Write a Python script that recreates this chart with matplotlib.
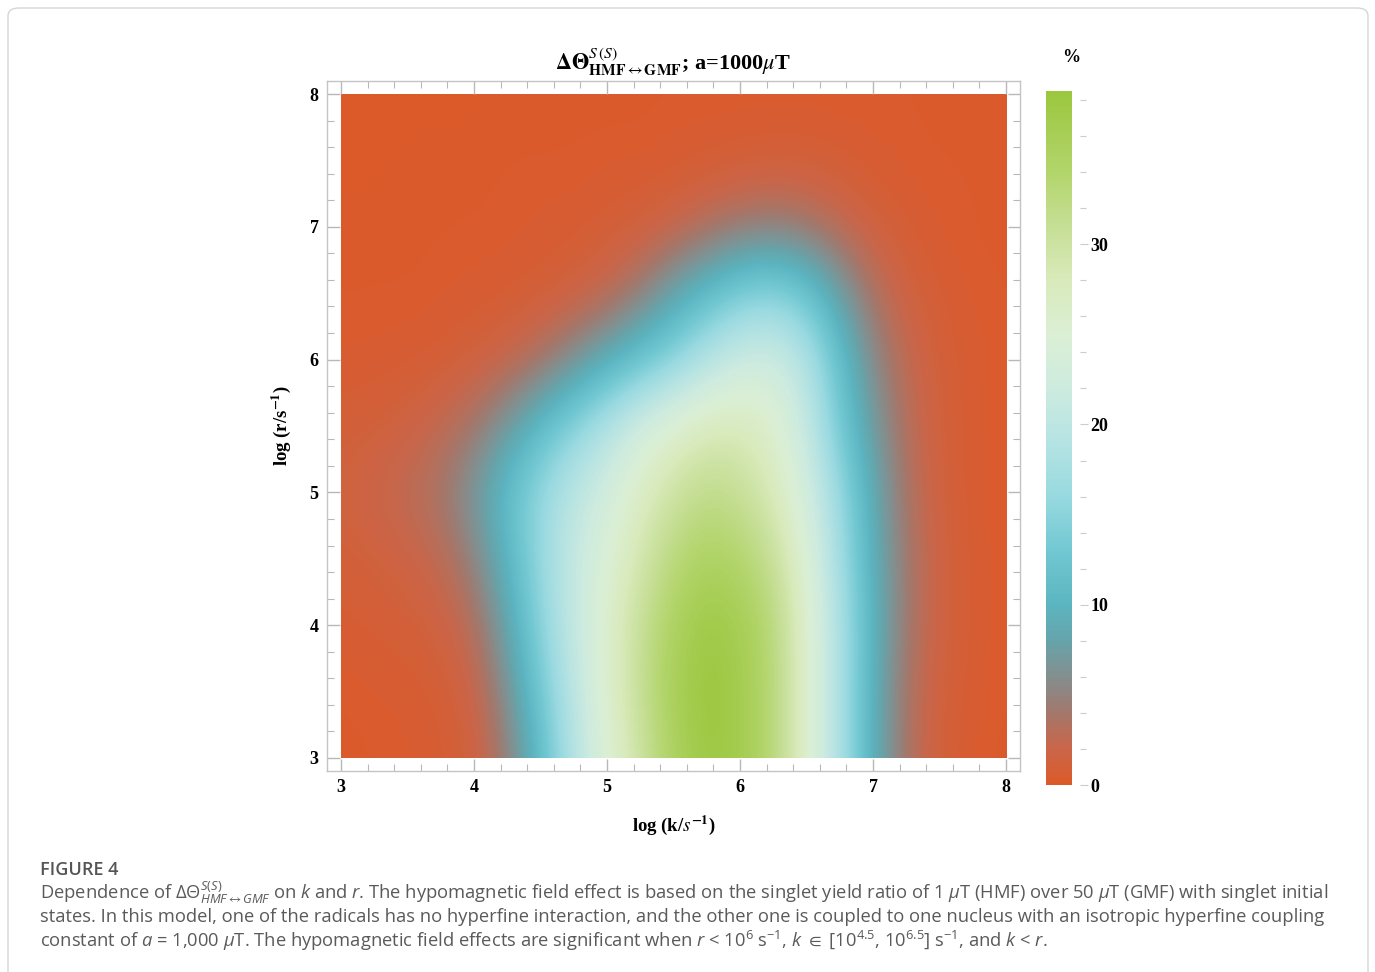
import numpy as np
import matplotlib
matplotlib.use("Agg")
import matplotlib.pyplot as plt
from matplotlib.colors import LinearSegmentedColormap
from matplotlib.patches import Rectangle, FancyBboxPatch
from matplotlib.ticker import MultipleLocator

plt.rcParams['mathtext.fontset'] = 'custom'
plt.rcParams['mathtext.rm'] = 'Open Sans'
plt.rcParams['mathtext.it'] = 'Open Sans:italic'
plt.rcParams['mathtext.bf'] = 'Open Sans:bold'
plt.rcParams['mathtext.sf'] = 'Open Sans'
plt.rcParams['mathtext.fallback'] = 'stixsans'

# grid: log k (columns) x log r (rows), effect in %
log_k = [3.0, 3.25, 3.5, 3.75, 4.0, 4.25, 4.5, 4.75, 5.0, 5.25, 5.5,
         5.75, 6.0, 6.25, 6.5, 6.75, 7.0, 7.25, 7.5, 7.75, 8.0]
log_r = [3.0, 3.5, 4.0, 4.5, 5.0, 5.5, 6.0, 6.5, 7.0, 7.5, 8.0]

r30 = [0.2, 0.3, 0.4, 0.6, 1.2, 4.5, 11, 19, 25, 30, 35, 38, 37, 33, 26, 18, 9, 3.5, 1.0, 0.4, 0.2]
r35 = [0.3, 0.4, 0.5, 0.8, 1.8, 6, 13, 20, 26, 31, 36, 38.5, 37, 33, 26, 18, 9, 3.5, 1.2, 0.5, 0.3]
r40 = [0.6, 0.8, 1.0, 1.5, 3, 8, 15, 21, 26, 31, 35, 38, 36.5, 33, 26, 18, 9.5, 4, 1.5, 0.6, 0.3]
r45 = [1.0, 1.3, 1.7, 2.5, 5, 10, 16, 21, 25, 29, 33, 35, 34, 31, 25, 17, 9, 4, 1.5, 0.6, 0.3]
r50 = [1.5, 2.0, 2.8, 4, 7, 11.5, 16, 20, 23, 27, 30, 32, 31, 28, 23, 16, 8.5, 3.5, 1.3, 0.5, 0.3]
r55 = [1.0, 1.2, 1.6, 2.5, 4, 7, 11, 15, 19, 23, 26, 28, 28, 26, 21, 13, 7, 3, 1.2, 0.5, 0.3]
r60 = [0.4, 0.5, 0.6, 0.8, 1.2, 2, 3.5, 6, 9, 12, 15, 19, 22, 22.5, 19, 11.5, 5.5, 2.5, 1.0, 0.5, 0.3]
r65 = [0.3, 0.3, 0.3, 0.4, 0.5, 0.6, 0.8, 1.3, 2.3, 4.5, 8, 11, 14, 15, 12.5, 7.5, 3.5, 1.5, 0.7, 0.4, 0.3]
r70 = [0.2, 0.2, 0.2, 0.3, 0.3, 0.4, 0.5, 0.6, 0.8, 1.1, 1.8, 3, 4, 4.5, 3.8, 2.5, 1.3, 0.7, 0.4, 0.3, 0.2]
r75 = [0.1, 0.1, 0.2, 0.2, 0.2, 0.3, 0.3, 0.3, 0.4, 0.4, 0.5, 0.6, 0.8, 0.9, 0.9, 0.7, 0.5, 0.4, 0.3, 0.3, 0.2]
r80 = [0.1, 0.1, 0.1, 0.1, 0.1, 0.2, 0.2, 0.2, 0.2, 0.2, 0.3, 0.3, 0.3, 0.3, 0.3, 0.3, 0.3, 0.3, 0.2, 0.2, 0.2]

cbar_ticks = [0, 10, 20, 30]
vmax = 38.5

# colour scale stops (value, colour)
stops = [(0, '#dc5a2a'), (2, '#c9664a'), (4, '#a2786c'), (5.5, '#8a8a88'),
         (8, '#66a4ab'), (10, '#5bb5c0'), (13, '#72c8d2'), (16, '#98d9e0'),
         (19, '#b5e3e3'), (22, '#cdebdf'), (25, '#dbefd5'), (28, '#d9eabb'),
         (31, '#c6df96'), (34, '#b3d56c'), (38.5, '#9bc73e')]
cmap = LinearSegmentedColormap.from_list('hmf', [(v / vmax, c) for v, c in stops])

Z = np.array([r30, r35, r40, r45, r50, r55, r60, r65, r70, r75, r80])

fig = plt.figure(figsize=(13.75, 9.72), dpi=100)
W, H = 1375, 972

ax = fig.add_axes([327 / W, 1 - 771 / H, (1020 - 327) / W, (771 - 81) / H])
dk = (log_k[1] - log_k[0]) / 2
dr = (log_r[1] - log_r[0]) / 2
im = ax.imshow(Z, origin='lower', cmap=cmap, vmin=0, vmax=vmax, aspect='auto',
               extent=[log_k[0] - dk, log_k[-1] + dk, log_r[0] - dr, log_r[-1] + dr],
               interpolation='bicubic', interpolation_stage='data')
im.set_clip_path(Rectangle((3, 3), 5, 5, transform=ax.transData))
ax.set_xlim(2.895, 8.105)
ax.set_ylim(2.902, 8.098)

for s in ax.spines.values():
    s.set_color('#c4c4c4')
    s.set_linewidth(1)
ax.xaxis.set_major_locator(MultipleLocator(1))
ax.yaxis.set_major_locator(MultipleLocator(1))
ax.xaxis.set_minor_locator(MultipleLocator(0.2))
ax.yaxis.set_minor_locator(MultipleLocator(0.2))
ax.tick_params(which='both', direction='in', top=True, right=True, color='#b8b8b8')
ax.tick_params(which='major', length=9, width=1, pad=6, labelsize=13)
ax.tick_params(which='minor', length=5, width=0.8)
for lab in ax.get_xticklabels() + ax.get_yticklabels():
    lab.set_fontfamily('Liberation Serif')
    lab.set_fontweight('bold')

ax.set_xlabel(r'log (k/$s^{\mathbf{-1}}$)', fontsize=13.5, fontfamily='Liberation Serif',
              fontweight='bold', math_fontfamily='stix')
ax.set_ylabel(r'log (r/s$^{\mathbf{-1}}$)', fontsize=13.5, fontfamily='Liberation Serif',
              fontweight='bold', math_fontfamily='stix')
ax.xaxis.set_label_coords(0.5, -0.061)
ax.yaxis.set_label_coords(-0.049, 0.5)

fig.text(673 / W, 1 - 70 / H,
         r'$\mathbf{\Delta\Theta}^{S\,(S)}_{\mathbf{HMF}\leftrightarrow\mathbf{GMF}}$; a=1000$\mu$T',
         ha='center', va='baseline', fontsize=16, fontfamily='Liberation Serif',
         fontweight='bold', math_fontfamily='stix')

# colour bar
cax = fig.add_axes([1046 / W, 1 - 785 / H, 26 / W, (785 - 91) / H])
cb = fig.colorbar(im, cax=cax, ticks=cbar_ticks)
cb.outline.set_visible(False)
cax.spines['right'].set_position(('outward', 6))
cax.yaxis.set_minor_locator(MultipleLocator(2))
cax.tick_params(which='both', color='#cccccc', width=0.8)
cax.tick_params(which='major', length=6, pad=1, labelsize=13)
cax.tick_params(which='minor', length=4)
for lab in cax.get_yticklabels():
    lab.set_fontfamily('Liberation Serif')
    lab.set_fontweight('bold')
fig.text(1071 / W, 1 - 58 / H, '%', ha='center', va='center', fontsize=13,
         fontfamily='Liberation Serif', fontweight='bold')

# caption
cap_font = ['Open Sans', 'DejaVu Sans']
fig.text(40 / W, 1 - 870 / H, 'FIGURE 4', fontsize=13, color='#555555',
         fontfamily=cap_font, fontweight='semibold', va='center')
cap_lines = [
    r'Dependence of $\Delta\Theta^{S(S)}_{HMF\leftrightarrow GMF}$ on $k$ and $r$. The hypomagnetic field effect is based on the singlet yield ratio of 1 $\mu$T (HMF) over 50 $\mu$T (GMF) with singlet initial',
    'states. In this model, one of the radicals has no hyperfine interaction, and the other one is coupled to one nucleus with an isotropic hyperfine coupling',
    r'constant of $a$ = 1,000 $\mu$T. The hypomagnetic field effects are significant when $r$ < 10$^{6}$ s$^{-1}$, $k$ $\in$ [10$^{4.5}$, 10$^{6.5}$] s$^{-1}$, and $k$ < $r$.',
]
cap_y = [893, 917, 941]
for line, y in zip(cap_lines, cap_y):
    fig.text(40 / W, 1 - y / H, line, fontsize=13.2, color='#5a5a5a',
             fontfamily=cap_font, va='center', math_fontfamily='custom')

fig.patches.append(FancyBboxPatch((8 / W, -0.05), 1360 / W, 1 - 8 / H + 0.05,
                                  boxstyle='round,pad=0,rounding_size=0.008',
                                  transform=fig.transFigure, fill=False,
                                  ec='#d6d6d6', lw=1))

fig.savefig('out.png', dpi=100)
